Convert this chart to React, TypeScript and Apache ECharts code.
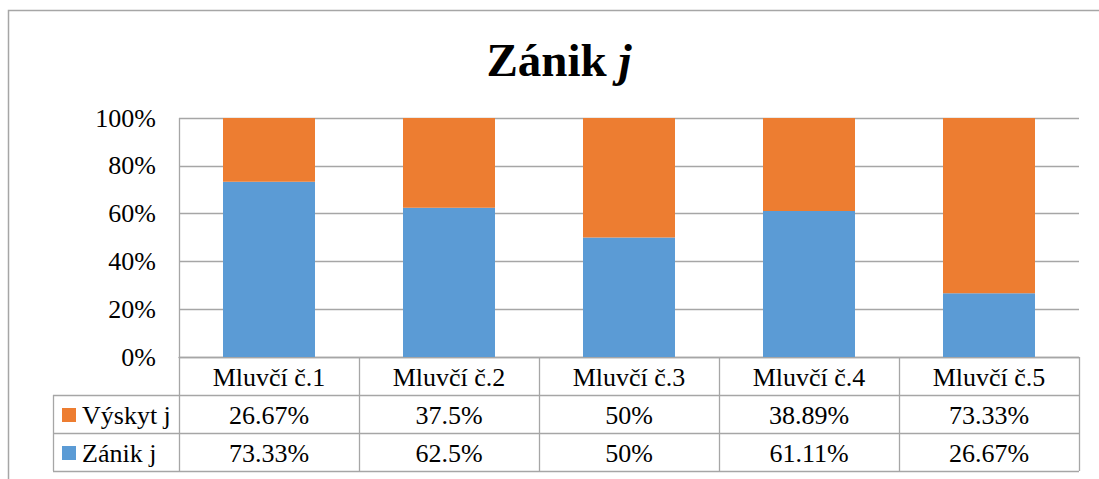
import React, { useEffect, useRef } from "react";
import * as echarts from "echarts";

const categories = ["Mluvčí č.1", "Mluvčí č.2", "Mluvčí č.3", "Mluvčí č.4", "Mluvčí č.5"];
const zanikValues = [73.33, 62.5, 50, 61.11, 26.67];
const vyskytValues = [26.67, 37.5, 50, 38.89, 73.33];
const seriesNames = ["Výskyt j", "Zánik j"];
const yTicks = [0, 20, 40, 60, 80, 100];

const BLUE = "#5B9BD5";
const ORANGE = "#ED7D31";
const LINE = "#a6a6a6";
const FONT = "'Liberation Serif', 'Times New Roman', serif";
const FS = 26;

export default function App() {
  const ref = useRef<HTMLDivElement>(null);
  useEffect(() => {
    document.body.style.margin = "0";
    const chart = echarts.init(ref.current!, null, { renderer: "svg" });
    const gridLeft = 179;
    const gridRight = 1079;
    const gridTop = 118;
    const axisY = 357;
    const rows = [357, 395, 433, 471];
    const tableLeft = 53;
    const catW = (gridRight - gridLeft) / categories.length;

    const graphics: any[] = [];
    // outer frame
    graphics.push({
      type: "rect",
      shape: { x: 8.5, y: 10.5, width: 1200, height: 600 },
      style: { fill: "none", stroke: LINE, lineWidth: 1.5 },
      silent: true,
    });
    // title
    graphics.push({
      type: "text",
      x: 559,
      y: 60,
      style: {
        text: "{b|Zánik }{i|j}",
        align: "center",
        verticalAlign: "middle",
        rich: {
          b: { fontFamily: FONT, fontWeight: "bold", fontSize: 47, fill: "#000" },
          i: { fontFamily: FONT, fontWeight: "bold", fontStyle: "italic", fontSize: 47, fill: "#000" },
        },
      },
    });
    // table lines
    const hl = (y: number, x1: number) =>
      graphics.push({
        type: "line",
        shape: { x1, y1: y, x2: gridRight, y2: y },
        style: { stroke: LINE, lineWidth: 1.3 },
      });
    hl(rows[1] + 0.5, tableLeft);
    hl(rows[2] + 0.5, tableLeft);
    hl(rows[3] + 0.5, tableLeft);
    for (let i = 0; i <= categories.length; i++) {
      const x = gridLeft + i * catW + 0.5;
      graphics.push({
        type: "line",
        shape: { x1: x, y1: i === 0 ? gridTop : axisY, x2: x, y2: rows[3] },
        style: { stroke: LINE, lineWidth: 1.3 },
      });
    }
    graphics.push({
      type: "line",
      shape: { x1: tableLeft + 0.5, y1: rows[1], x2: tableLeft + 0.5, y2: rows[3] },
      style: { stroke: LINE, lineWidth: 1.3 },
    });
    const tableSeries = [
      { name: seriesNames[0], values: vyskytValues, color: ORANGE },
      { name: seriesNames[1], values: zanikValues, color: BLUE },
    ];
    tableSeries.forEach((s, r) => {
      const cy = (rows[r + 1] + rows[r + 2]) / 2 + 1;
      graphics.push({
        type: "rect",
        shape: { x: 62, y: cy - 7, width: 14, height: 14 },
        style: { fill: s.color },
      });
      graphics.push({
        type: "text",
        x: 82,
        y: cy,
        style: { text: s.name, fontFamily: FONT, fontSize: FS, fill: "#000", verticalAlign: "middle", align: "left" },
      });
      s.values.forEach((v, i) => {
        graphics.push({
          type: "text",
          x: gridLeft + (i + 0.5) * catW,
          y: cy,
          style: {
            text: String(v) + "%",
            fontFamily: FONT,
            fontSize: FS,
            fill: "#000",
            align: "center",
            verticalAlign: "middle",
          },
        });
      });
    });

    chart.setOption({
      animation: false,
      backgroundColor: "#fff",
      grid: { left: gridLeft, right: 1099 - gridRight, top: gridTop, bottom: 479 - axisY },
      xAxis: {
        type: "category",
        data: categories,
        axisLine: { show: true, lineStyle: { color: LINE, width: 1.3 } },
        axisTick: { show: false },
        axisLabel: {
          fontFamily: FONT,
          fontSize: FS,
          color: "#000",
          margin: 7,
        },
      },
      yAxis: {
        type: "value",
        min: 0,
        max: 100,
        interval: 20,
        axisLine: { show: false },
        axisTick: { show: false },
        splitLine: { show: true, lineStyle: { color: LINE, width: 1.3 } },
        axisLabel: {
          fontFamily: FONT,
          fontSize: FS,
          color: "#000",
          margin: 23,
          formatter: (v: number) => (yTicks.includes(v) ? v + "%" : ""),
        },
      },
      series: [
        {
          name: seriesNames[1],
          type: "bar",
          stack: "total",
          data: zanikValues,
          barWidth: 92,
          itemStyle: { color: BLUE },
        },
        {
          name: seriesNames[0],
          type: "bar",
          stack: "total",
          data: vyskytValues,
          barWidth: 92,
          itemStyle: { color: ORANGE },
        },
      ],
      graphic: graphics,
    });
    return () => chart.dispose();
  }, []);
  return <div ref={ref} style={{ width: 1099, height: 479 }} />;
}
